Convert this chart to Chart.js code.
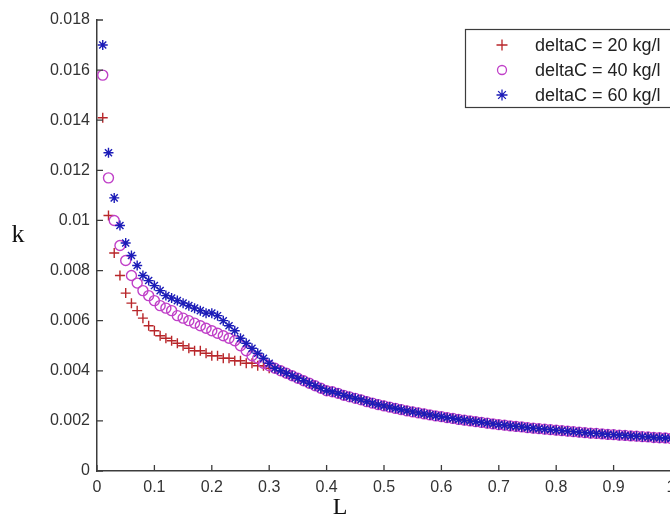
<!DOCTYPE html>
<html>
<head>
<meta charset="utf-8">
<title>k vs L</title>
<script src="https://cdn.jsdelivr.net/npm/chart.js@4.4.1/dist/chart.umd.min.js"></script>
<style>
  html, body { margin: 0; padding: 0; background: #fff; overflow: hidden; }
  #wrap { position: absolute; left: 0; top: 0; width: 700px; height: 515px; }
</style>
</head>
<body>
<div id="wrap"><canvas id="kChart" width="700" height="515"></canvas></div>
<script>
// Gia tri L (truc hoanh)
const lValues = [
    0.01, 0.02, 0.03, 0.04, 0.05, 0.06, 0.07, 0.08, 0.09, 0.10,
    0.11, 0.12, 0.13, 0.14, 0.15, 0.16, 0.17, 0.18, 0.19, 0.20,
    0.21, 0.22, 0.23, 0.24, 0.25, 0.26, 0.27, 0.28, 0.29, 0.30,
    0.31, 0.32, 0.33, 0.34, 0.35, 0.36, 0.37, 0.38, 0.39, 0.40,
    0.41, 0.42, 0.43, 0.44, 0.45, 0.46, 0.47, 0.48, 0.49, 0.50,
    0.51, 0.52, 0.53, 0.54, 0.55, 0.56, 0.57, 0.58, 0.59, 0.60,
    0.61, 0.62, 0.63, 0.64, 0.65, 0.66, 0.67, 0.68, 0.69, 0.70,
    0.71, 0.72, 0.73, 0.74, 0.75, 0.76, 0.77, 0.78, 0.79, 0.80,
    0.81, 0.82, 0.83, 0.84, 0.85, 0.86, 0.87, 0.88, 0.89, 0.90,
    0.91, 0.92, 0.93, 0.94, 0.95, 0.96, 0.97, 0.98, 0.99, 1.00
];

// k cho L = 0.01 .. 0.30, moi deltaC mot day
const k20Head = [
    0.0141, 0.0102, 0.0087, 0.0078, 0.0071, 0.0067, 0.0064, 0.0061, 0.0058, 0.0056,
    0.0054, 0.0053, 0.0052, 0.0051, 0.0050, 0.0049, 0.0048, 0.0048, 0.0047, 0.0046,
    0.0046, 0.0045, 0.0045, 0.0044, 0.0044, 0.0043, 0.0043, 0.0042, 0.0042, 0.0041
];
const k40Head = [
    0.0158, 0.0117, 0.0100, 0.0090, 0.0084, 0.0078, 0.0075, 0.0072, 0.0070, 0.0068,
    0.0066, 0.0065, 0.0064, 0.0062, 0.0061, 0.0060, 0.0059, 0.0058, 0.0057, 0.0056,
    0.0055, 0.0054, 0.0053, 0.0052, 0.0050, 0.0048, 0.0046, 0.0045, 0.0043, 0.0042
];
const k60Head = [
    0.0170, 0.0127, 0.0109, 0.0098, 0.0091, 0.0086, 0.0082, 0.0078, 0.0076, 0.0074,
    0.0072, 0.0070, 0.0069, 0.0068, 0.0067, 0.0066, 0.0065, 0.0064, 0.0063, 0.0063,
    0.0062, 0.0060, 0.0058, 0.0056, 0.0053, 0.0051, 0.0049, 0.0047, 0.0045, 0.0043
];

// L = 0.31 .. 1.00: ba duong trung nhau
const kTail = [
    0.0041, 0.0040, 0.0039, 0.0038, 0.0037, 0.0036, 0.0035, 0.0034, 0.0033, 0.0032,
    0.00316, 0.0031, 0.00302, 0.00296, 0.0029, 0.00284, 0.00277, 0.00271, 0.00265, 0.0026,
    0.00255, 0.0025, 0.00245, 0.0024, 0.00236, 0.00232, 0.00228, 0.00224, 0.0022, 0.00217,
    0.00213, 0.0021, 0.00206, 0.00203, 0.0020, 0.00197, 0.00194, 0.00191, 0.00188, 0.00185,
    0.00183, 0.0018, 0.00178, 0.00176, 0.00173, 0.00171, 0.00169, 0.00167, 0.00165, 0.00163,
    0.00161, 0.00159, 0.00157, 0.00155, 0.00153, 0.00151, 0.0015, 0.00148, 0.00146, 0.00145,
    0.00143, 0.00142, 0.0014, 0.00139, 0.00137, 0.00136, 0.00134, 0.00133, 0.00132, 0.0013
];

const seriesLabels = ['deltaC = 20 kg/l', 'deltaC = 40 kg/l', 'deltaC = 60 kg/l'];

const xTickValues = [0, 0.1, 0.2, 0.3, 0.4, 0.5, 0.6, 0.7, 0.8, 0.9, 1];
const xTickLabels = ['0', '0.1', '0.2', '0.3', '0.4', '0.5', '0.6', '0.7', '0.8', '0.9', '1'];
const yTickValues = [0, 0.002, 0.004, 0.006, 0.008, 0.01, 0.012, 0.014, 0.016, 0.018];
const yTickLabels = ['0', '0.002', '0.004', '0.006', '0.008', '0.01', '0.012', '0.014', '0.016', '0.018'];

function toPoints(kValues) {
    return lValues.map((l, i) => ({ x: l, y: kValues[i] }));
}

const axisColor = '#3c3c3c';
const tickFont = { family: "'Liberation Sans', Arial, sans-serif", size: 16 };

// ve them: vach chia huong vao trong, nhan truc, chu giai kieu MATLAB
const matlabLook = {
    id: 'matlabLook',
    afterDraw(chart) {
        const ctx = chart.ctx;
        const x = chart.scales.x, y = chart.scales.y;
        const area = chart.chartArea;
        ctx.save();
        ctx.strokeStyle = axisColor;
        ctx.lineWidth = 1.3;
        ctx.beginPath();
        x.ticks.forEach(t => {
            const px = x.getPixelForValue(t.value);
            ctx.moveTo(px, area.bottom);
            ctx.lineTo(px, area.bottom - 6);
        });
        y.ticks.forEach(t => {
            const py = y.getPixelForValue(t.value);
            ctx.moveTo(area.left, py);
            ctx.lineTo(area.left + 6, py);
        });
        ctx.stroke();

        // ten truc
        ctx.fillStyle = '#111';
        ctx.textAlign = 'center';
        ctx.textBaseline = 'alphabetic';
        ctx.font = "26px 'Liberation Serif', 'Times New Roman', serif";
        ctx.fillText('k', 18, 242);
        ctx.font = "24px 'Liberation Serif', 'Times New Roman', serif";
        ctx.fillText('L', 340, 514);

        // hop chu giai
        ctx.fillStyle = '#fff';
        ctx.fillRect(465, 29, 240, 78);
        ctx.strokeStyle = axisColor;
        ctx.lineWidth = 1.2;
        ctx.strokeRect(465.5, 29.5, 240, 78);
        ctx.font = "18px 'Liberation Sans', Arial, sans-serif";
        ctx.textAlign = 'left';
        ctx.textBaseline = 'middle';
        chart.data.datasets.forEach((ds, i) => {
            const cy = 45 + i * 25, cx = 502, r = 5.5;
            ctx.strokeStyle = ds.borderColor;
            ctx.lineWidth = 1.3;
            ctx.beginPath();
            if (ds.pointStyle === 'circle') {
                ctx.arc(cx, cy, r - 1, 0, Math.PI * 2);
            } else {
                ctx.moveTo(cx - r, cy); ctx.lineTo(cx + r, cy);
                ctx.moveTo(cx, cy - r); ctx.lineTo(cx, cy + r);
                if (ds.pointStyle === 'star') {
                    const d = r * 0.7;
                    ctx.moveTo(cx - d, cy - d); ctx.lineTo(cx + d, cy + d);
                    ctx.moveTo(cx - d, cy + d); ctx.lineTo(cx + d, cy - d);
                }
            }
            ctx.stroke();
            ctx.fillStyle = '#222';
            ctx.fillText(ds.label, 535, cy + 1);
        });
        ctx.restore();
    }
};

const kChartData = {
    type: 'scatter',
    data: {
        datasets: [{
            label: seriesLabels[0],
            data: toPoints(k20Head.concat(kTail)),
            pointStyle: 'cross',
            borderColor: '#b8262a',
            backgroundColor: 'rgba(0,0,0,0)',
            order: 2
        }, {
            label: seriesLabels[1],
            data: toPoints(k40Head.concat(kTail)),
            pointStyle: 'circle',
            borderColor: '#c040c8',
            backgroundColor: 'rgba(0,0,0,0)',
            order: 1
        }, {
            label: seriesLabels[2],
            data: toPoints(k60Head.concat(kTail)),
            pointStyle: 'star',
            borderColor: '#1c1cb8',
            backgroundColor: 'rgba(0,0,0,0)',
            order: 0
        }]
    },
    options: {
        responsive: false,
        animation: false,
        events: [],
        layout: { padding: { top: 20, right: 29, left: 0, bottom: 0 } },
        elements: {
            point: { radius: 5, borderWidth: 1.4 }
        },
        plugins: {
            legend: { display: false },
            tooltip: { enabled: false }
        },
        scales: {
            x: {
                type: 'linear',
                min: 0,
                max: 1,
                afterBuildTicks: s => { s.ticks = xTickValues.map(v => ({ value: v })); },
                afterFit: s => { s.height = 44; },
                grid: { display: false, drawTicks: false },
                border: { display: true, color: axisColor, width: 1.5 },
                ticks: {
                    padding: 7,
                    color: '#333',
                    font: tickFont,
                    maxRotation: 0,
                    autoSkip: false,
                    callback: (v, i) => xTickLabels[i]
                }
            },
            y: {
                type: 'linear',
                min: 0,
                max: 0.018,
                afterBuildTicks: s => { s.ticks = yTickValues.map(v => ({ value: v })); },
                afterFit: s => { s.width = 97; },
                grid: { display: false, drawTicks: false },
                border: { display: true, color: axisColor, width: 1.5 },
                ticks: {
                    padding: 7,
                    color: '#333',
                    font: tickFont,
                    autoSkip: false,
                    callback: (v, i) => yTickLabels[i]
                }
            }
        }
    },
    plugins: [matlabLook]
};

window.onload = function() {
    const ctx = document.getElementById('kChart').getContext('2d');
    const kChart = new Chart(ctx, kChartData);
};
</script>
</body>
</html>
